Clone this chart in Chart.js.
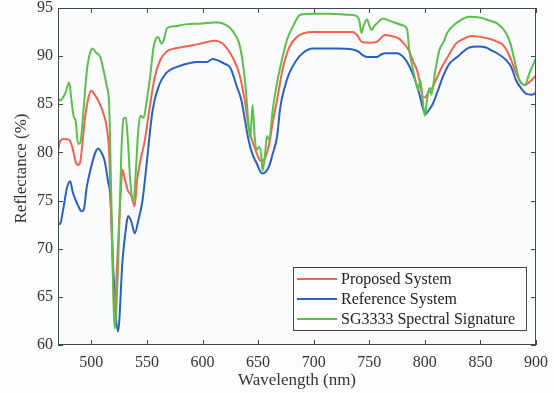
<!DOCTYPE html>
<html>
<head>
<meta charset="utf-8">
<script src="https://cdn.jsdelivr.net/npm/chart.js@4/dist/chart.umd.min.js"></script>
<style>
html,body{margin:0;padding:0;background:#fdfdfe;}
#wrap{width:554px;height:393px;position:relative;}
</style>
</head>
<body>
<div id="wrap"><canvas id="c" width="554" height="393"></canvas></div>
<script>
// ---- data ----
const seriesNames = ["Proposed System", "Reference System", "SG3333 Spectral Signature"];
const xTicks = [500, 550, 600, 650, 700, 750, 800, 850, 900];
const yTicks = [60, 65, 70, 75, 80, 85, 90, 95];

const proposedWl = [470,472,475,480,483,486,488,490,492,494,497,500,503,507,511,514,516,518,521,523,526,528,530,533,536,539,541,544,548,552,557,562,568,575,580,590,598,605,610,615,620,627,633,638,642,647,651,653,656,660,663,667,672,678,685,699,720,735,739,743,750,757,764,770,777,782,786,790,793,796,798,800,803,807,811,815,820,828,835,842,850,858,865,870,875,879,883,887,890,894,897,900];
const proposedVals = [80.1,81.2,81.4,81.3,80.5,79.0,78.7,79.0,81.0,83.3,85.5,86.4,86.0,85.2,84.0,82.5,80.0,73.0,63.5,68.0,75.0,78.2,77.3,76.0,75.5,74.4,77.0,79.1,81.2,84.3,87.8,89.6,90.5,90.8,90.9,91.1,91.3,91.5,91.6,91.5,91.1,89.9,88.2,85.4,82.3,80.5,79.3,79.1,79.4,80.9,83.0,85.4,88.6,90.9,92.0,92.5,92.5,92.5,92.2,91.5,91.4,91.5,92.2,92.1,91.8,91.2,90.5,89.3,88.5,87.0,85.8,85.7,86.2,86.8,87.8,88.8,89.8,91.3,91.8,92.1,92.0,91.8,91.5,91.2,90.3,89.2,88.0,87.2,87.0,87.3,87.6,88.0];

const referenceWl = [470,472,475,478,481,483,485,488,491,493,496,499,503,506,509,512,515,517,520,524,528,531,533,536,539,542,546,550,555,561,567,573,580,586,595,604,609,615,620,625,631,635,638,641,645,649,652,654,657,660,663,667,670,674,678,684,690,699,720,735,740,744,748,757,761,765,775,780,784,789,795,799,801,803,807,812,816,822,829,835,840,848,855,860,865,873,878,882,887,891,896,900];
const referenceVals = [72.5,72.6,74.3,76.3,77.0,76.0,75.3,74.5,73.9,74.0,76.5,78.1,79.8,80.4,80.0,79.1,77.0,75.5,67.3,61.4,68.7,72.0,73.4,72.8,71.6,72.8,75.0,79.1,84.3,87.0,88.2,88.7,89.0,89.2,89.4,89.4,89.7,89.5,89.2,88.8,86.8,85.4,83.5,81.5,79.8,78.8,78.0,77.8,78.0,78.6,79.8,81.6,84.7,86.8,88.2,89.5,90.3,90.8,90.8,90.7,90.5,90.1,89.9,89.9,90.2,90.3,90.3,90.0,89.4,88.2,86.1,84.3,84.0,84.3,85.0,86.5,87.8,89.2,89.9,90.5,90.9,91.0,90.9,90.6,90.3,89.6,88.8,87.5,86.6,86.1,86.0,86.2];

const signatureWl = [470,472,474,477,480,482,484,486,488,490,493,496,499,501,504,508,511,514,516,518,521,524,527,529,531,533,535,538,540,542,544,547,550,553,556,558,560,563,565,568,575,585,600,610,615,620,625,630,633,636,639,641,643,645,647,649,651,653,654,656,658,660,663,667,670,676,681,688,700,715,730,738,741,743,745,748,750,752,755,757,762,770,780,784,786,789,792,794,796,798,800,802,804,806,809,813,817,820,828,840,850,858,865,873,877,880,885,890,894,900];
const signatureVals = [85.7,85.4,85.6,86.3,87.3,85.5,83.8,83.2,80.9,81.0,84.5,88.5,90.4,90.8,90.4,89.9,88.5,86.8,85.0,75.0,61.7,68.0,80.0,83.5,83.6,81.0,77.0,75.0,78.0,82.0,83.8,83.6,85.5,88.0,91.0,91.8,92.0,91.3,91.6,92.9,93.1,93.3,93.4,93.5,93.5,93.3,92.9,92.1,91.3,89.5,86.5,83.5,81.5,84.9,81.5,80.3,80.6,79.5,78.1,79.5,81.7,81.3,84.3,87.2,88.9,91.7,93.0,94.3,94.4,94.4,94.3,94.2,93.7,92.4,93.2,93.8,93.2,92.7,93.2,93.4,93.9,93.6,93.2,92.8,90.6,88.8,87.2,86.5,87.5,85.5,83.8,85.5,86.7,86.0,88.2,90.6,91.5,92.4,93.4,94.1,94.0,93.7,93.4,92.4,91.3,89.9,87.5,87.0,88.2,89.8];

const colors = ["#f2624e", "#2a5fc4", "#5cbf4a"];
const FONT = "'Liberation Serif', 'Times New Roman', serif";
const FRAME = "#3d4b4b";

function pts(xs, ys){ return xs.map((x,i)=>({x:x, y:ys[i]})); }

const framePlugin = {
  id: 'frame',
  beforeDraw(chart){
    const {ctx, chartArea:a} = chart;
    ctx.save();
    ctx.fillStyle = '#fbfcfe';
    ctx.fillRect(a.left, a.top, a.right-a.left, a.bottom-a.top);
    ctx.restore();
  },
  afterDraw(chart){
    const {ctx, chartArea:a, scales} = chart;
    ctx.save();
    ctx.strokeStyle = FRAME;
    ctx.lineWidth = 1;
    ctx.strokeRect(a.left+0.5, a.top+0.5, a.right-a.left-1, a.bottom-a.top-1);
    ctx.beginPath();
    xTicks.forEach(v=>{
      const px = Math.round(scales.x.getPixelForValue(v))+0.5;
      ctx.moveTo(px, a.bottom); ctx.lineTo(px, a.bottom-5);
      ctx.moveTo(px, a.top); ctx.lineTo(px, a.top+5);
    });
    yTicks.forEach(v=>{
      const py = Math.round(scales.y.getPixelForValue(v))+0.5;
      ctx.moveTo(a.left, py); ctx.lineTo(a.left+5, py);
      ctx.moveTo(a.right, py); ctx.lineTo(a.right-5, py);
    });
    ctx.stroke();

    // axis titles
    ctx.fillStyle = '#333';
    ctx.font = '17px ' + FONT;
    ctx.textAlign = 'center';
    ctx.textBaseline = 'middle';
    ctx.fillText('Wavelength (nm)', (a.left+a.right)/2, 381);
    ctx.save();
    ctx.translate(22, (a.top+a.bottom)/2 - 8);
    ctx.rotate(-Math.PI/2);
    ctx.fillText('Reflectance (%)', 0, 0);
    ctx.restore();

    // legend box
    const lx = 293, ly = 267, lw = 233, lh = 63;
    ctx.fillStyle = '#ffffff';
    ctx.fillRect(lx, ly, lw, lh);
    ctx.strokeStyle = '#444';
    ctx.strokeRect(lx+0.5, ly+0.5, lw, lh);
    const rows = [279, 299, 319];
    ctx.font = '16px ' + FONT;
    ctx.textAlign = 'left';
    seriesNames.forEach((n,i)=>{
      ctx.strokeStyle = colors[i];
      ctx.lineWidth = 2;
      ctx.beginPath();
      ctx.moveTo(297, rows[i]); ctx.lineTo(337, rows[i]);
      ctx.stroke();
      ctx.fillStyle = '#222';
      ctx.fillText(n, 341, rows[i]+1);
    });
    ctx.restore();
  }
};

new Chart(document.getElementById('c'), {
  type: 'line',
  data: {
    datasets: [
      {label: seriesNames[0], data: pts(proposedWl, proposedVals), borderColor: colors[0], order: 1},
      {label: seriesNames[1], data: pts(referenceWl, referenceVals), borderColor: colors[1], order: 2},
      {label: seriesNames[2], data: pts(signatureWl, signatureVals), borderColor: colors[2], order: 0}
    ]
  },
  options: {
    responsive: false,
    animation: false,
    parsing: true,
    datasets: { line: { borderWidth: 2, pointRadius: 0, cubicInterpolationMode: 'monotone', fill: false } },
    layout: { padding: { left: 0, top: 8, right: 18, bottom: -2 } },
    plugins: { legend: { display: false }, tooltip: { enabled: false } },
    scales: {
      x: {
        type: 'linear', min: 470, max: 900,
        grid: { display: false, drawTicks: false },
        border: { display: false },
        afterBuildTicks: s => { s.ticks = xTicks.map(v=>({value:v})); },
        afterFit: s => { s.height = 50; s.paddingLeft = 0; s.paddingRight = 0; },
        ticks: { padding: 8, color: '#333', font: { family: FONT, size: 16 }, maxRotation: 0 }
      },
      y: {
        type: 'linear', min: 60, max: 95,
        grid: { display: false, drawTicks: false },
        border: { display: false },
        afterBuildTicks: s => { s.ticks = yTicks.map(v=>({value:v})); },
        afterFit: s => { s.width = 58; s.paddingTop = 0; s.paddingBottom = 0; },
        ticks: { padding: 5, color: '#333', font: { family: FONT, size: 16 } }
      }
    }
  },
  plugins: [framePlugin]
});
</script>
</body>
</html>
